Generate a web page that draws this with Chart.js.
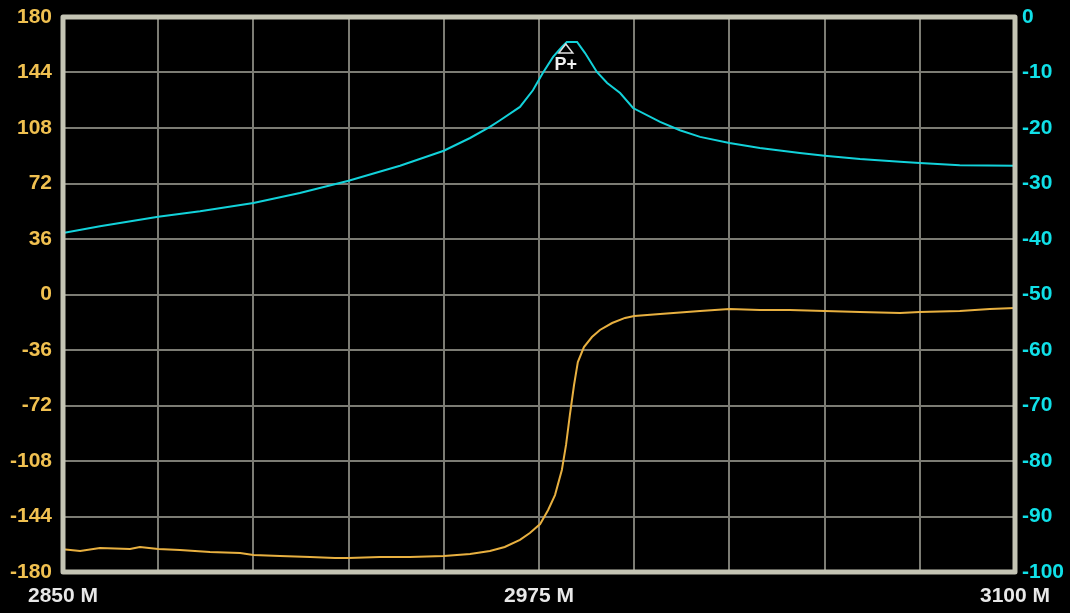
<!DOCTYPE html>
<html>
<head>
<meta charset="utf-8">
<script src="https://cdn.jsdelivr.net/npm/chart.js@4"></script>
<style>
  html, body { margin: 0; padding: 0; background: #000; }
  #wrap { width: 1070px; height: 613px; position: relative; }
</style>
</head>
<body>
<div id="wrap"><canvas id="myChart"></canvas></div>
<script>
// magnitude trace (dB, right axis)
const magFreq = [2850, 2859.7, 2875, 2886, 2900, 2912.2, 2925, 2938.5, 2950, 2956.9, 2962.1, 2964.8, 2970, 2973.4, 2976, 2978.7, 2981, 2982.3, 2985, 2987.1, 2990.2, 2992.9, 2996.3, 2999.7, 3006.8, 3012, 3017.3, 3025, 3033, 3043.5, 3050, 3059.3, 3069.8, 3075, 3085.5, 3100];
const magDb = [-38.9, -37.7, -36.0, -35.0, -33.5, -31.7, -29.5, -26.8, -24.1, -21.8, -19.8, -18.6, -16.2, -13.2, -10.1, -7.2, -5.4, -4.5, -4.5, -6.5, -9.9, -11.9, -13.7, -16.4, -18.9, -20.4, -21.6, -22.7, -23.6, -24.5, -25.0, -25.6, -26.1, -26.3, -26.7, -26.8];

// phase trace (degrees, left axis)
const phaseFreq = [2850, 2854.5, 2859.7, 2867.6, 2870.2, 2875, 2880.7, 2888.6, 2896.5, 2900, 2907, 2914.9, 2921.4, 2925, 2933.2, 2941.1, 2950, 2956.9, 2962.1, 2966, 2970, 2972.6, 2975.3, 2977.4, 2979.2, 2981, 2982.1, 2983.1, 2984.2, 2985.2, 2986.8, 2988.9, 2991, 2994.2, 2997.6, 3000, 3006.8, 3017.3, 3025, 3033, 3040.9, 3050, 3059.3, 3069.8, 3075, 3085.5, 3093.4, 3100];
const phaseDeg = [-165.3, -166.4, -164.4, -165.0, -163.8, -165.1, -165.7, -167.0, -167.7, -169.0, -169.6, -170.3, -170.9, -170.9, -170.3, -170.3, -169.6, -168.3, -166.4, -163.8, -159.2, -154.7, -148.9, -139.8, -130.1, -113.8, -97.6, -78.2, -58.7, -43.8, -34.1, -27.6, -23.0, -18.5, -15.2, -13.9, -12.6, -10.7, -9.4, -10.1, -10.1, -10.7, -11.4, -12.0, -11.4, -10.7, -9.4, -8.8];

const freqLabels = [2850, 2975, 3100];
const markerText = 'P+';

const labelFont = { family: 'Liberation Sans', size: 21, weight: 'bold' };

const framePlugin = {
    id: 'frame',
    afterDatasetsDraw(chart) {
        const a = chart.chartArea;
        const c = chart.ctx;
        c.save();
        c.strokeStyle = '#c4c4b4';
        c.lineWidth = 5;
        c.lineJoin = 'round';
        c.strokeRect(a.left, a.top, a.right - a.left, a.bottom - a.top);
        c.restore();
    }
};

const markerPlugin = {
    id: 'marker',
    afterDatasetsDraw(chart) {
        // put the marker on the highest point of the magnitude trace
        let best = 0;
        magDb.forEach((v, i) => { if (v > magDb[best]) best = i; });
        const px = chart.scales.x.getPixelForValue(magFreq[best]) - 1;
        const py = chart.scales.yMag.getPixelForValue(magDb[best]);
        const c = chart.ctx;
        c.save();
        c.strokeStyle = '#e0e0e0';
        c.lineWidth = 1.5;
        c.beginPath();
        c.moveTo(px, py + 2);
        c.lineTo(px - 7, py + 11);
        c.lineTo(px + 7, py + 11);
        c.closePath();
        c.stroke();
        c.fillStyle = '#f0f0f0';
        c.font = 'bold 18px "Liberation Sans"';
        c.textAlign = 'center';
        c.textBaseline = 'top';
        c.fillText(markerText, px, py + 14);
        c.restore();
    }
};

const noPad = s => { s.paddingTop = 0; s.paddingBottom = 0; };

const ctx = document.getElementById('myChart');

new Chart(ctx, {
    type: 'line',
    data: {
        datasets: [{
            label: 'Magnitude',
            data: magFreq.map((f, i) => ({ x: f, y: magDb[i] })),
            yAxisID: 'yMag',
            borderColor: '#12d2da',
            borderWidth: 2,
            pointRadius: 0,
            tension: 0
        }, {
            label: 'Phase',
            data: phaseFreq.map((f, i) => ({ x: f, y: phaseDeg[i] })),
            yAxisID: 'yPhase',
            borderColor: '#e8b040',
            borderWidth: 2,
            pointRadius: 0,
            tension: 0
        }]
    },
    options: {
        responsive: true,
        maintainAspectRatio: false,
        animation: false,
        layout: { padding: { top: 17, left: 0, right: 0, bottom: 0 } },
        plugins: {
            legend: { display: false },
            tooltip: { enabled: false }
        },
        scales: {
            x: {
                type: 'linear',
                min: 2850,
                max: 3100,
                afterFit: s => { s.height = 41; s.paddingLeft = 0; s.paddingRight = 0; },
                border: { display: false },
                grid: { color: '#7c7c74', lineWidth: 2, drawTicks: false },
                ticks: {
                    stepSize: 25,
                    autoSkip: false,
                    maxRotation: 0,
                    padding: 12,
                    color: '#e8e8e8',
                    font: labelFont,
                    callback: v => freqLabels.includes(v) ? v + ' M' : ''
                }
            },
            yPhase: {
                position: 'left',
                min: -180,
                max: 180,
                afterFit: s => { s.width = 63; noPad(s); },
                border: { display: false },
                grid: { color: '#7c7c74', lineWidth: 2, drawTicks: false },
                ticks: { stepSize: 36, padding: 11, color: '#f0c050', font: labelFont }
            },
            yMag: {
                position: 'right',
                min: -100,
                max: 0,
                afterFit: s => { s.width = 55; noPad(s); },
                border: { display: false },
                grid: { drawOnChartArea: false, drawTicks: false },
                ticks: { stepSize: 10, padding: 7, color: '#10e0e8', font: labelFont }
            }
        }
    },
    plugins: [framePlugin, markerPlugin]
});
</script>
</body>
</html>
